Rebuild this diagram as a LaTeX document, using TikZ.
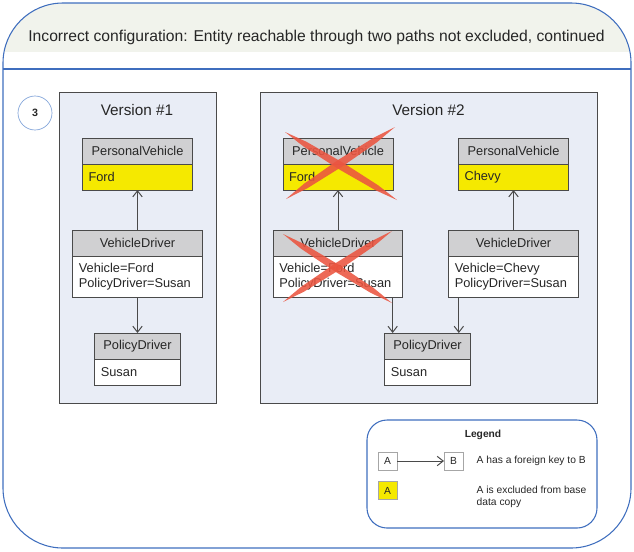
\documentclass[tikz,border=0pt]{standalone}
\usepackage{fontspec}
\setmainfont{Liberation Sans}
\usetikzlibrary{positioning,calc,arrows.meta}
\definecolor{frameblue}{HTML}{3F6EBE}
\definecolor{circblue}{HTML}{7FA2D8}
\definecolor{hdrfill}{HTML}{F1F3EC}
\definecolor{verfill}{HTML}{E9EDF6}
\definecolor{boxline}{HTML}{4A4A4A}
\definecolor{hdrgray}{HTML}{D0D0D2}
\definecolor{exclyellow}{HTML}{F5E900}
\definecolor{txt}{HTML}{262626}
\definecolor{xred}{HTML}{EB5540}
\newcommand{\entfont}{\fontsize{9.6}{11}\selectfont}
% one tapered brush stroke of a cross, from #1 to #2
\newcommand{\xstroke}[2]{\fill[xmark] (#1)
  -- ($(#1)!0.18!(#2)!2.1pt!90:(#2)$) -- ($(#1)!0.5!(#2)!2.9pt!90:(#2)$) -- ($(#1)!0.82!(#2)!2.1pt!90:(#2)$)
  -- (#2)
  -- ($(#1)!0.82!(#2)!2.1pt!-90:(#2)$) -- ($(#1)!0.5!(#2)!2.9pt!-90:(#2)$) -- ($(#1)!0.18!(#2)!2.1pt!-90:(#2)$)
  -- cycle;}
\tikzset{
  frame/.style={draw=frameblue, line width=0.8pt, rounded corners=45pt, outer sep=0pt},
  verbox/.style={draw=boxline, fill=verfill, line width=0.75pt, outer sep=0pt},
  vertitle/.style={font=\fontsize{11.5}{13}\selectfont, text=txt, anchor=base, inner sep=0pt},
  hdr/.style={draw=boxline, fill=hdrgray, line width=0.75pt, minimum width=#1, minimum height=19.5pt, inner sep=0pt, outer sep=0pt, font=\entfont, text=txt},
  bdy/.style={draw=boxline, fill=white, line width=0.75pt, text width=#1, inner xsep=4.5pt, inner ysep=0pt, outer sep=0pt, align=left, font=\entfont, text=txt},
  fk/.style={draw=boxline, line width=0.75pt, -{Straight Barb[length=4.5pt,width=7pt]}},
  xmark/.style={fill=xred, opacity=0.88},
  legtext/.style={font=\fontsize{7.7}{9}\selectfont, text=txt, align=left},
  legbox/.style={draw=gray!70, line width=0.5pt, minimum width=14.25pt, minimum height=13.5pt, inner sep=0pt, outer sep=0pt, font=\fontsize{7.7}{9}\selectfont, text=txt}
}
\begin{document}
\begin{tikzpicture}[x=0.75pt,y=-0.75pt]
\useasboundingbox (0,0) rectangle (634,551);
% outer frame with header band
\begin{scope}
\clip[rounded corners=45pt] (3,3) rectangle (631,548);
\fill[hdrfill] (0,0) rectangle (634,52);
\end{scope}
\node[frame, minimum width=471pt, minimum height=408.75pt] (frame) at (317,275.5) {};
\coordinate (sep) at (0,69);
\draw[frameblue, line width=0.8pt] (frame.west |- sep) -- (frame.east |- sep);
\node[anchor=base, font=\fontsize{11.75}{13}\selectfont, text=txt] (title) at (316.5,41) {Incorrect configuration: Entity reachable through two paths not excluded, continued};
\node[draw=circblue, line width=0.5pt, circle, minimum size=25.5pt, inner sep=0pt, font=\bfseries\fontsize{8}{9}\selectfont, text=txt] (step3) at (35,113) {3};
% version 1
\node[verbox, minimum width=117.75pt, minimum height=233.25pt] (ver1) at (137.5,247.5) {};
\node[vertitle] (ver1t) at (137,115) {Version \#1};
\node[hdr=82.5pt] (pv1) at (137.5,151) {PersonalVehicle};
\node[bdy=73.5pt, fill=exclyellow, minimum height=19.5pt, below=0pt of pv1] (pv1-b) {Ford};
\node[hdr=97pt] (vd1) at (137.5,243) {VehicleDriver};
\node[bdy=88pt, minimum height=30.75pt, below=0pt of vd1] (vd1-b) {Vehicle=Ford\\PolicyDriver=Susan};
\node[hdr=64pt] (pd1) at (137.5,346) {PolicyDriver};
\node[bdy=55pt, minimum height=19.5pt, below=0pt of pd1] (pd1-b) {Susan};
\draw[fk] (vd1.north) -- (pv1-b.south);
\draw[fk] (vd1-b.south) -- (pd1.north);
% version 2
\node[verbox, minimum width=252.75pt, minimum height=233.25pt] (ver2) at (428.5,247.5) {};
\node[vertitle] (ver2t) at (428.5,115) {Version \#2};
\node[hdr=82.5pt] (pv2a) at (338,151) {PersonalVehicle};
\node[bdy=73.5pt, fill=exclyellow, minimum height=19.5pt, below=0pt of pv2a] (pv2a-b) {Ford};
\node[hdr=82.5pt] (pv2b) at (513.5,151) {PersonalVehicle};
\node[bdy=73.5pt, fill=exclyellow, minimum height=19.5pt, below=0pt of pv2b] (pv2b-b) {Chevy};
\node[hdr=97pt] (vd2a) at (338,243) {VehicleDriver};
\node[bdy=88pt, minimum height=30.75pt, below=0pt of vd2a] (vd2a-b) {Vehicle=Ford\\PolicyDriver=Susan};
\node[hdr=97pt] (vd2b) at (513.5,243) {VehicleDriver};
\node[bdy=88pt, minimum height=30.75pt, below=0pt of vd2b] (vd2b-b) {Vehicle=Chevy\\PolicyDriver=Susan};
\node[hdr=64pt] (pd2) at (427.5,346) {PolicyDriver};
\node[bdy=55pt, minimum height=19.5pt, below=0pt of pd2] (pd2-b) {Susan};
\draw[fk] (vd2a.north) -- (pv2a-b.south);
\draw[fk] (vd2b.north) -- (pv2b-b.south);
\draw[fk] ([xshift=-7.5pt]vd2a-b.south east) -- ([xshift=-7.5pt]vd2a-b.south east |- pd2.north);
\draw[fk] ([xshift=7.5pt]vd2b-b.south west) -- ([xshift=7.5pt]vd2b-b.south west |- pd2.north);
% red crosses over the removed rows
\xstroke{285,132}{397,200}
\xstroke{286,199}{395,127}
\xstroke{283,234}{392,303}
\xstroke{283,302}{392,231}
% legend
\node[draw=frameblue, line width=0.8pt, rounded corners=15pt, minimum width=172.5pt, minimum height=81pt] (legend) at (482,474) {};
\node[anchor=base, font=\bfseries\fontsize{7.7}{9}\selectfont, text=txt] (legt) at (483,437) {Legend};
\node[legbox] (legA) at (387.5,461) {A};
\node[legbox] (legB) at (453.5,461) {B};
\draw[fk] (legA) -- (legB);
\node[legtext, anchor=west] (legfk) at (472,461) {A has a foreign key to B};
\node[legbox, fill=exclyellow] (legY) at (387.5,490.5) {A};
\node[legtext, anchor=west] (legex) at (472,497) {A is excluded from base\\data copy};
\end{tikzpicture}
\end{document}
